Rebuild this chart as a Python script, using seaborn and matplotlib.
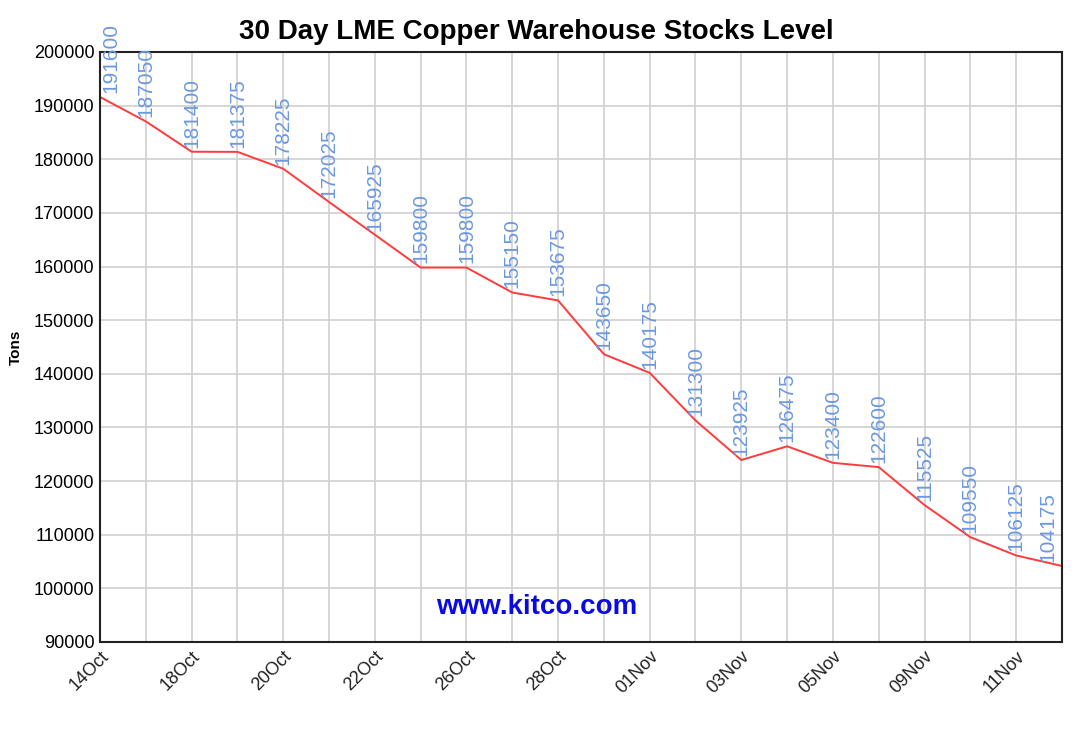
import pandas as pd
import matplotlib
matplotlib.use('Agg')
import matplotlib.pyplot as plt
import seaborn as sns
import numpy as np

# Copper warehouse stocks, one value per trading day
stocks = [191600, 187050, 181400, 181375, 178225, 172025, 165925, 159800,
          159800, 155150, 153675, 143650, 140175, 131300, 123925, 126475,
          123400, 122600, 115525, 109550, 106125, 104175]
# every second day carries a date label
date_labels = ['14Oct', '18Oct', '20Oct', '22Oct', '26Oct', '28Oct',
               '01Nov', '03Nov', '05Nov', '09Nov', '11Nov']

df = pd.DataFrame({'day': np.arange(len(stocks)), 'tons': stocks})

sns.set_style('white')
plt.rcParams['font.family'] = ['Liberation Sans', 'DejaVu Sans']
plt.rcParams['text.color'] = 'black'
plt.rcParams['axes.labelcolor'] = 'black'
plt.rcParams['ytick.color'] = 'black'

fig = plt.figure(figsize=(10.77, 7.32), dpi=100)
ax = fig.add_axes([0.0929, 0.123, 0.8931, 0.806])

sns.lineplot(data=df, x='day', y='tons', ax=ax, color='#ff3b3b', linewidth=1.4)

# value labels above each point, end labels kept inside the plot
last = len(stocks) - 1
for d, t in zip(df['day'], df['tons']):
    if d == 0:
        ha, dx = 'left', 1
    elif d == last:
        ha, dx = 'right', -3
    else:
        ha, dx = 'center', 0
    ax.annotate(f'{t}', (d, t), xytext=(dx, 3), textcoords='offset points',
                rotation=90, ha=ha, va='bottom', fontsize=15,
                color='#6b98e2', annotation_clip=False)

ax.set_xlim(0, last)
ax.set_ylim(90000, 200000)
ax.set_yticks(np.arange(90000, 200001, 10000))
ax.set_yticklabels([str(v) for v in range(90000, 200001, 10000)], fontsize=13)

major = np.arange(0, len(stocks), 2)
ax.set_xticks(major)
ax.set_xticklabels(date_labels, rotation=45, ha='right', rotation_mode='anchor',
                   fontsize=13, color='#222222')
ax.set_xticks(np.arange(1, len(stocks), 2), minor=True)
ax.grid(which='both', color='#d0d0d0', linewidth=1.2)
ax.tick_params(axis='both', which='major', direction='in', length=6, width=1.5,
               color='black', pad=4)
ax.tick_params(axis='x', which='minor', length=0)
for s in ax.spines.values():
    s.set_color('#222222')
    s.set_linewidth(1.5)

ax.set_xlabel('')
ax.set_ylabel('Tons', fontsize=11, fontweight='bold', labelpad=8)
fig.suptitle('30 Day LME Copper Warehouse Stocks Level', fontsize=20,
             fontweight='bold', x=0.498, y=0.974, va='top', color='black')

ax.text(0.454, 0.059, 'www.kitco.com', transform=ax.transAxes, ha='center',
        va='center', fontsize=20, fontweight='bold', color='#0a0ae6')

fig.savefig('out.png', dpi=100)
plt.close(fig)
